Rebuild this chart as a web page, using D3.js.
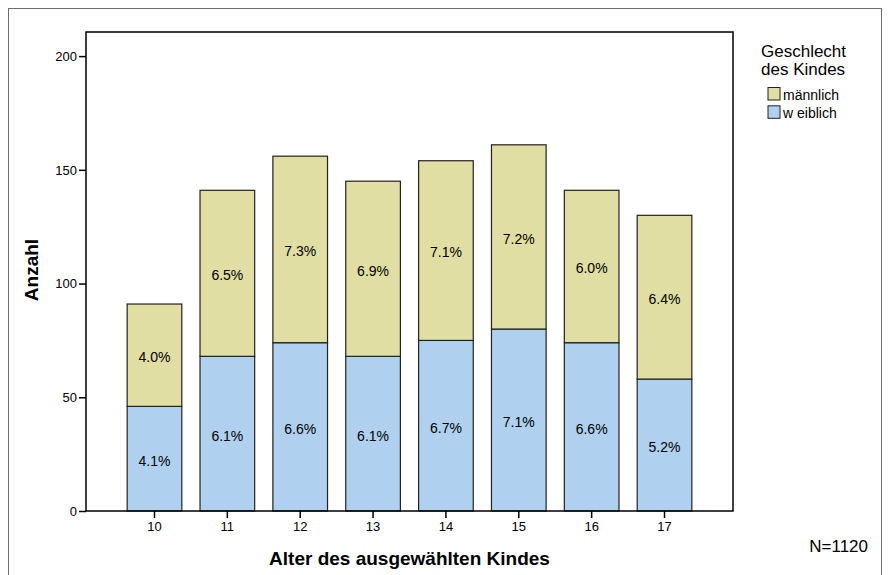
<!DOCTYPE html>
<html>
<head>
<meta charset="utf-8">
<script src="https://d3js.org/d3.v7.min.js"></script>
<style>
  body { margin: 0; background: #fff; }
  text { font-family: "Liberation Sans", Arial, sans-serif; fill: #000; }
</style>
</head>
<body>
<svg id="chart" width="891" height="575"></svg>
<script>
// data
const ages = ["10", "11", "12", "13", "14", "15", "16", "17"];
const weiblich = [46, 68, 74, 68, 75, 80, 74, 58];
const maennlich = [45, 73, 82, 77, 79, 81, 67, 72];
const yTicks = [0, 50, 100, 150, 200];
const groups = ["männlich", "weiblich"];
const total = 1120;

const colors = { "männlich": "#e0dea2", "weiblich": "#afd0ef" };

const svg = d3.select("#chart");

// outer frame
svg.append("rect")
  .attr("x", 8.5).attr("y", 8.5)
  .attr("width", 873).attr("height", 580)
  .attr("fill", "none").attr("stroke", "#6e6e6e").attr("stroke-width", 1);

const plot = { left: 86, top: 32, right: 733, bottom: 511 };

const x = d3.scaleBand()
  .domain(ages)
  .range([plot.left, plot.right])
  .paddingInner(0.25)
  .paddingOuter(0.565);

const y = d3.scaleLinear()
  .domain([0, 210.6])
  .range([plot.bottom, plot.top]);

const rows = ages.map((a, i) => ({ age: a, "männlich": maennlich[i], "weiblich": weiblich[i] }));
const stacked = d3.stack().keys(["weiblich", "männlich"])(rows);

const pct = d3.format(".1%");

stacked.forEach(layer => {
  const g = svg.append("g");
  g.selectAll("rect").data(layer).enter().append("rect")
    .attr("x", d => x(d.data.age))
    .attr("y", d => y(d[1]))
    .attr("width", x.bandwidth())
    .attr("height", d => y(d[0]) - y(d[1]))
    .attr("fill", colors[layer.key])
    .attr("stroke", "#222")
    .attr("stroke-width", 1.2);
  g.selectAll("text").data(layer).enter().append("text")
    .attr("x", d => x(d.data.age) + x.bandwidth() / 2)
    .attr("y", d => y((d[0] + d[1]) / 2) + 2)
    .attr("dy", "0.35em")
    .attr("text-anchor", "middle")
    .style("font-size", "14px")
    .text(d => pct((d[1] - d[0]) / total));
});

// plot border
svg.append("rect")
  .attr("x", plot.left).attr("y", plot.top)
  .attr("width", plot.right - plot.left).attr("height", plot.bottom - plot.top)
  .attr("fill", "none").attr("stroke", "#000").attr("stroke-width", 1.5);

// y axis
const yAxis = svg.append("g")
  .attr("transform", "translate(" + plot.left + ",0)")
  .call(d3.axisLeft(y).tickValues(yTicks).tickSize(7).tickPadding(2));
yAxis.select(".domain").remove();
yAxis.selectAll("line").attr("stroke", "#000").attr("stroke-width", 1.5);
yAxis.selectAll("text").style("font-size", "13px").style("font-family", "Liberation Sans, Arial, sans-serif");

// x axis
const xAxis = svg.append("g")
  .attr("transform", "translate(0," + plot.bottom + ")")
  .call(d3.axisBottom(x).tickSize(7).tickPadding(4));
xAxis.select(".domain").remove();
xAxis.selectAll("line").attr("stroke", "#000").attr("stroke-width", 1.5);
xAxis.selectAll("text").style("font-size", "13px").style("font-family", "Liberation Sans, Arial, sans-serif");

// axis titles
svg.append("text")
  .attr("transform", "translate(38,270) rotate(-90)")
  .attr("text-anchor", "middle")
  .style("font-size", "19px").style("font-weight", "bold")
  .text("Anzahl");

svg.append("text")
  .attr("x", (plot.left + plot.right) / 2)
  .attr("y", 565)
  .attr("text-anchor", "middle")
  .style("font-size", "19px").style("font-weight", "bold")
  .text("Alter des ausgewählten Kindes");

// legend
const leg = svg.append("g");
leg.append("text").attr("x", 761).attr("y", 57).style("font-size", "17px").text("Geschlecht");
leg.append("text").attr("x", 761).attr("y", 75).style("font-size", "17px").text("des Kindes");
groups.forEach((k, i) => {
  leg.append("rect")
    .attr("x", 768).attr("y", 87.5 + i * 18.3)
    .attr("width", 12).attr("height", 12.5)
    .attr("fill", colors[k]).attr("stroke", "#222").attr("stroke-width", 1);
  leg.append("text")
    .attr("x", 783).attr("y", 100 + i * 18.3)
    .style("font-size", "14px")
    .text(k === "weiblich" ? "w eiblich" : k);
});

svg.append("text")
  .attr("x", 868).attr("y", 552)
  .attr("text-anchor", "end")
  .style("font-size", "17px")
  .text("N=" + total);
</script>
</body>
</html>
